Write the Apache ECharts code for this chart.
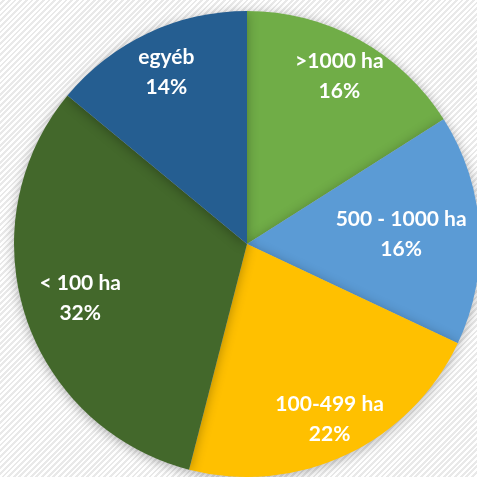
<!DOCTYPE html>
<html>
<head>
<meta charset="utf-8">
<script src="https://cdn.jsdelivr.net/npm/echarts@6/dist/echarts.min.js"></script>
<style>
  html, body { margin: 0; padding: 0; }
  body {
    width: 477px; height: 477px; overflow: hidden;
    background: repeating-linear-gradient(135deg, #ffffff 0px, #ffffff 2px, #e9e9e9 2px, #e9e9e9 4px);
  }
  #chart { width: 477px; height: 477px; }
</style>
</head>
<body>
<div id="chart"></div>
<script>
// kategóriák az óramutató járásával megegyezően, 12 órától
const categories = ['>1000 ha', '500 - 1000 ha', '100-499 ha', '< 100 ha', 'egyéb'];
const shares = [16, 16, 22, 32, 14];
const colors = ['#70AD47', '#5B9BD5', '#FFC000', '#43682B', '#255E91'];

// címke távolsága a középponttól (sugár arányában)
const labelRadius = [0.81, 0.65, 0.82, 0.74, 0.8];

const R = 233;
const total = shares.reduce((a, b) => a + b, 0);

const chart = echarts.init(document.getElementById('chart'));

chart.setOption({
  animation: false,
  series: [{
    type: 'pie',
    center: [247, 244],
    radius: [0, R],
    startAngle: 90,
    clockwise: true,
    data: categories.map((name, i) => ({
      name: name,
      value: shares[i],
      itemStyle: { color: colors[i] }
    })),
    itemStyle: {
      shadowBlur: 12,
      shadowColor: 'rgba(0,0,0,0.3)',
      shadowOffsetY: 2
    },
    label: {
      position: 'inside',
      formatter: '{b}\n{d}%',
      color: '#fff',
      fontFamily: 'Lato',
      fontWeight: 'bold',
      fontSize: 21,
      lineHeight: 30
    },
    labelLine: { show: false },
    emphasis: { disabled: true },
    labelLayout: function (params) {
      const i = params.dataIndex;
      let before = 0;
      for (let k = 0; k < i; k++) before += shares[k];
      const mid = (before + shares[i] / 2) / total * Math.PI * 2;
      const shift = (labelRadius[i] - 0.5) * R;
      return { dx: Math.sin(mid) * shift, dy: -Math.cos(mid) * shift };
    }
  }]
});
</script>
</body>
</html>
